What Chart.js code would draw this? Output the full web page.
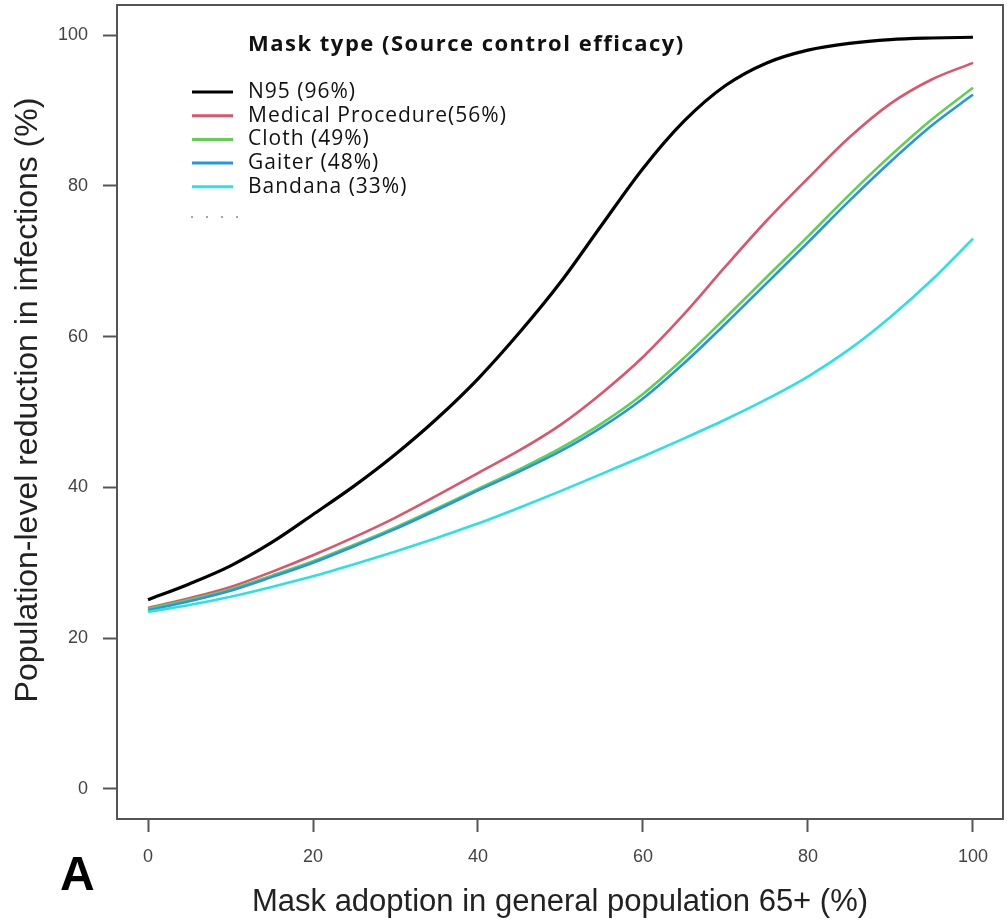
<!DOCTYPE html>
<html>
<head>
<meta charset="utf-8">
<script src="https://cdn.jsdelivr.net/npm/chart.js@4/dist/chart.umd.min.js"></script>
<style>
  html, body { margin: 0; padding: 0; background: #fff; }
</style>
</head>
<body>
<canvas id="maskChart" width="1008" height="924"></canvas>
<script>
// Mask adoption (%) - x values shared by all curves
var adoption = [0, 5, 10, 15, 20, 25, 30, 35, 40, 45, 50, 55, 60, 65, 70, 75, 80, 85, 90, 95, 100];

// Population-level reduction in infections (%)
var n95     = [25.1, 27.2, 29.6, 32.7, 36.4, 40.2, 44.4, 49.1, 54.4, 60.5, 67.2, 74.8, 82.3, 88.6, 93.3, 96.3, 98.0, 98.9, 99.4, 99.6, 99.7];
var medical = [24.0, 25.3, 26.8, 28.8, 31.0, 33.4, 36.0, 38.9, 41.9, 44.9, 48.3, 52.5, 57.3, 63.0, 69.3, 75.4, 81.0, 86.4, 90.9, 94.1, 96.3];
var cloth   = [23.9, 25.1, 26.5, 28.3, 30.2, 32.4, 34.7, 37.2, 39.8, 42.4, 45.2, 48.5, 52.4, 57.2, 62.5, 67.9, 73.3, 78.8, 84.0, 88.8, 93.0];
var gaiter  = [23.7, 24.9, 26.3, 28.1, 30.0, 32.2, 34.5, 37.0, 39.6, 42.1, 44.8, 48.0, 51.8, 56.5, 61.7, 67.1, 72.5, 78.0, 83.2, 88.0, 92.1];
var bandana = [23.5, 24.4, 25.5, 26.8, 28.2, 29.8, 31.5, 33.3, 35.2, 37.3, 39.5, 41.8, 44.1, 46.5, 49.0, 51.7, 54.7, 58.3, 62.6, 67.5, 73.0];

var seriesNames = ["N95 (96%)", "Medical Procedure(56%)", "Cloth (49%)", "Gaiter (48%)", "Bandana (33%)"];
var seriesColors = ["#000000", "#DF536B", "#61D04F", "#2297E6", "#28E2E5"];
var xTicks = [0, 20, 40, 60, 80, 100];
var yTicks = [0, 20, 40, 60, 80, 100];

function toPoints(vals) {
    return vals.map(function (v, i) { return { x: adoption[i], y: v }; });
}

var allSeries = [n95, medical, cloth, gaiter, bandana];
var datasets = allSeries.map(function (vals, i) {
    return {
        label: seriesNames[i],
        data: toPoints(vals),
        borderColor: seriesColors[i],
        borderWidth: i === 0 ? 3.2 : 2.6,
        pointRadius: 0,
        fill: false,
        cubicInterpolationMode: 'monotone'
    };
}).reverse(); // draw N95 last so it sits on top

// box around the plot area
var frame = {
    id: 'frame',
    afterDatasetsDraw: function (chart) {
        var a = chart.chartArea, c = chart.ctx;
        c.save();
        c.strokeStyle = '#555';
        c.lineWidth = 2;
        c.strokeRect(a.left, a.top, a.right - a.left, a.bottom - a.top);
        c.restore();
    }
};

// legend in the top-left corner of the plot, R style, plus y title and panel letter
var boxLegend = {
    id: 'boxLegend',
    afterDraw: function (chart) {
        var c = chart.ctx;
        c.save();
        c.fillStyle = '#111';
        c.textBaseline = 'middle';
        c.font = 'bold 22px "Open Sans", Lato, sans-serif';
        c.letterSpacing = '1.5px';
        c.fillText('Mask type (Source control efficacy)', 248, 45);
        c.letterSpacing = '1px';
        c.font = '21px "Open Sans", Lato, sans-serif';
        for (var i = 0; i < seriesNames.length; i++) {
            var y = 92 + i * 23.7;
            c.strokeStyle = seriesColors[i];
            c.lineWidth = 3;
            c.beginPath();
            c.moveTo(192, y);
            c.lineTo(233, y);
            c.stroke();
            c.fillText(seriesNames[i], 248, y);
        }
        c.letterSpacing = '0px';
        // faint dotted sample under the entries
        c.fillStyle = '#9aa';
        for (var k = 0; k < 4; k++) {
            c.fillRect(191 + k * 15, 216, 2, 2);
        }
        // y axis title
        c.save();
        c.translate(28, 400);
        c.rotate(-Math.PI / 2);
        c.textAlign = 'center';
        c.fillStyle = '#222';
        c.font = '32px "Liberation Sans", Arial, sans-serif';
        c.fillText('Population-level reduction in infections (%)', 0, 0);
        c.restore();
        // panel letter
        c.fillStyle = '#000';
        c.font = 'bold 48px "Liberation Sans", Arial, sans-serif';
        c.textBaseline = 'alphabetic';
        c.fillText('A', 60, 890);
        c.restore();
    }
};

var ctx = document.getElementById('maskChart').getContext('2d');
var maskChart = new Chart(ctx, {
    type: 'line',
    data: { datasets: datasets },
    options: {
        responsive: false,
        animation: false,
        layout: { padding: { top: 5, right: 5, left: 0, bottom: 0 } },
        plugins: {
            legend: { display: false },
            tooltip: { enabled: false }
        },
        scales: {
            x: {
                type: 'linear',
                min: -3.76,
                max: 103.64,
                afterBuildTicks: function (scale) {
                    scale.ticks = xTicks.map(function (v) { return { value: v }; });
                },
                afterFit: function (scale) {
                    scale.height = 105;
                    scale.paddingLeft = 0;
                    scale.paddingRight = 0;
                },
                grid: {
                    drawOnChartArea: false,
                    drawTicks: true,
                    tickLength: 13,
                    tickWidth: 2,
                    tickColor: '#555'
                },
                border: { display: false },
                ticks: {
                    padding: 14,
                    color: '#444',
                    maxRotation: 0,
                    font: { family: '"Liberation Sans", Arial, sans-serif', size: 18 }
                },
                title: {
                    display: true,
                    text: 'Mask adoption in general population 65+ (%)',
                    color: '#222',
                    padding: { top: 0, bottom: 3 },
                    font: { family: '"Liberation Sans", Arial, sans-serif', size: 31 }
                }
            },
            y: {
                min: -3.98,
                max: 103.98,
                afterBuildTicks: function (scale) {
                    scale.ticks = yTicks.map(function (v) { return { value: v }; });
                },
                afterFit: function (scale) {
                    scale.width = 117;
                    scale.paddingTop = 0;
                    scale.paddingBottom = 0;
                },
                grid: {
                    drawOnChartArea: false,
                    drawTicks: true,
                    tickLength: 14,
                    tickWidth: 2,
                    tickColor: '#555'
                },
                border: { display: false },
                ticks: {
                    padding: 15,
                    color: '#444',
                    font: { family: '"Liberation Sans", Arial, sans-serif', size: 18 }
                }
            }
        }
    },
    plugins: [frame, boxLegend]
});
</script>
</body>
</html>
